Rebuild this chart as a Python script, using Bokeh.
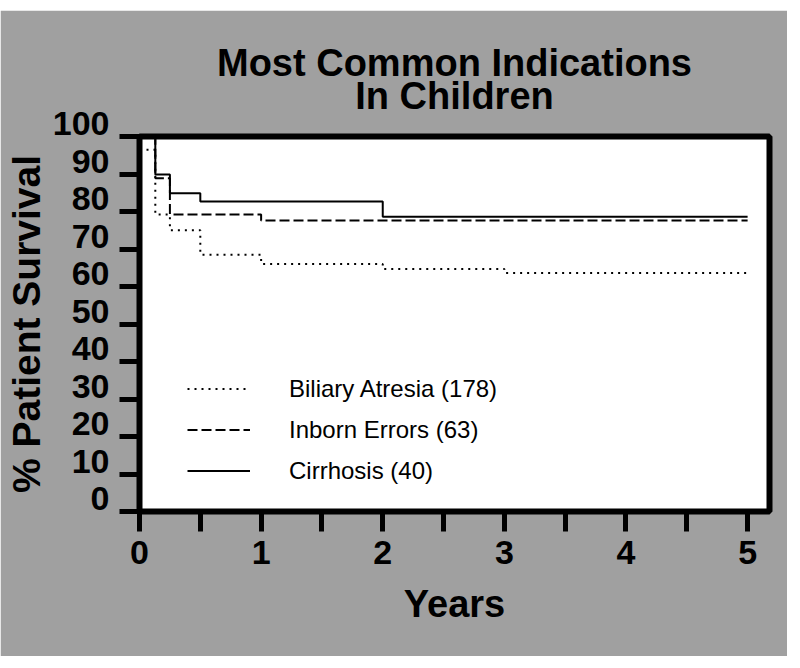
from bokeh.plotting import figure
from bokeh.models import (Range1d, FixedTicker, Legend, LegendItem, Title)
from bokeh.embed import file_html
from bokeh.resources import INLINE

# ---- data ----
years_biliary = [0.0, 0.13, 0.25, 0.5, 1.0, 2.0, 3.0, 5.0]
surv_biliary = [96.5, 79.2, 75.0, 68.5, 66.0, 64.7, 63.6, 63.6]

years_inborn = [0.0, 0.13, 0.25, 1.0, 5.0]
surv_inborn = [100.0, 88.9, 79.2, 77.6, 77.6]

years_cirrhosis = [0.0, 0.13, 0.25, 0.5, 2.0, 5.0]
surv_cirrhosis = [100.0, 89.9, 84.9, 82.7, 78.6, 78.6]

series_names = ["Biliary Atresia (178)", "Inborn Errors (63)", "Cirrhosis (40)"]

x_ticks = [0, 1, 2, 3, 4, 5]
x_minor_ticks = [0.5, 1.5, 2.5, 3.5, 4.5]
y_ticks = [0, 10, 20, 30, 40, 50, 60, 70, 80, 90, 100]
y_tick_labels = [str(v) for v in y_ticks]

title_lines = ["Most Common Indications", "In Children"]
x_title = "Years"
y_title = "% Patient Survival"

# ---- figure ----
FONT = "Liberation Sans"
p = figure(width=787, height=646, output_backend="svg", toolbar_location=None,
           title=None,
           x_range=Range1d(0, 5.18), y_range=Range1d(0, 100),
           min_border_left=139, min_border_right=18,
           min_border_top=126, min_border_bottom=145)
p.margin = (10, 0, 10, 0)
p.border_fill_color = "#a0a0a0"
p.background_fill_color = "white"
p.outline_line_color = "black"
p.outline_line_width = 6
p.xgrid.grid_line_color = None
p.ygrid.grid_line_color = None

# title: two centred lines (first added sits nearest the plot)
p.add_layout(Title(text=title_lines[1], align="center", text_font=FONT,
                   text_font_style="bold", text_font_size="38px",
                   text_color="black", standoff=40), "above")
p.add_layout(Title(text=title_lines[0], align="center", text_font=FONT,
                   text_font_style="bold", text_font_size="38px",
                   text_color="black", standoff=-62), "above")

# x axis
xa = p.xaxis[0]
xa.ticker = FixedTicker(ticks=x_ticks, minor_ticks=x_minor_ticks)
xa.axis_line_color = None
xa.major_tick_in = 0
xa.major_tick_out = 20
xa.major_tick_line_width = 5
xa.minor_tick_in = 0
xa.minor_tick_out = 20
xa.minor_tick_line_width = 5
xa.major_label_text_font = FONT
xa.major_label_text_font_style = "bold"
xa.major_label_text_font_size = "34px"
xa.major_label_text_color = "black"
xa.major_label_standoff = 9
xa.axis_label = x_title
xa.axis_label_text_font = FONT
xa.axis_label_text_font_style = "bold"
xa.axis_label_text_font_size = "38px"
xa.axis_label_text_color = "black"
xa.axis_label_standoff = 16

# y axis: labels sit a little above their ticks in the reference
ya = p.yaxis[0]
ya.ticker = FixedTicker(ticks=y_ticks, minor_ticks=[])
ya.axis_line_color = None
ya.major_tick_in = 0
ya.major_tick_out = 20
ya.major_tick_line_width = 5
ya.minor_tick_line_color = None
ya.major_label_overrides = {v: lab + "\n " for v, lab in zip(y_ticks, y_tick_labels)}
ya.major_label_text_line_height = 0.7
ya.major_label_text_font = FONT
ya.major_label_text_font_style = "bold"
ya.major_label_text_font_size = "34px"
ya.major_label_text_color = "black"
ya.major_label_standoff = 10
ya.axis_label = y_title
ya.axis_label_text_font = FONT
ya.axis_label_text_font_style = "bold"
ya.axis_label_text_font_size = "39px"
ya.axis_label_text_color = "black"
ya.axis_label_standoff = 2

# ---- survival curves ----
r1 = p.step(years_biliary, surv_biliary, mode="after", line_color="black",
            line_width=2, line_dash="2 5")
r2 = p.step(years_inborn, surv_inborn, mode="after", line_color="black",
            line_width=2, line_dash="10 4")
r3 = p.step(years_cirrhosis, surv_cirrhosis, mode="after", line_color="black",
            line_width=2)

legend = Legend(items=[LegendItem(label=series_names[0], renderers=[r1]),
                       LegendItem(label=series_names[1], renderers=[r2]),
                       LegendItem(label=series_names[2], renderers=[r3])],
                location=(48, 20), orientation="vertical",
                glyph_width=63, glyph_height=41, label_height=41,
                label_standoff=39, spacing=0, padding=0, margin=0,
                border_line_color=None, background_fill_alpha=0,
                label_text_font=FONT, label_text_font_size="24px",
                label_text_color="black")
p.add_layout(legend, "center")

open("out.html", "w").write(file_html(p, INLINE))
